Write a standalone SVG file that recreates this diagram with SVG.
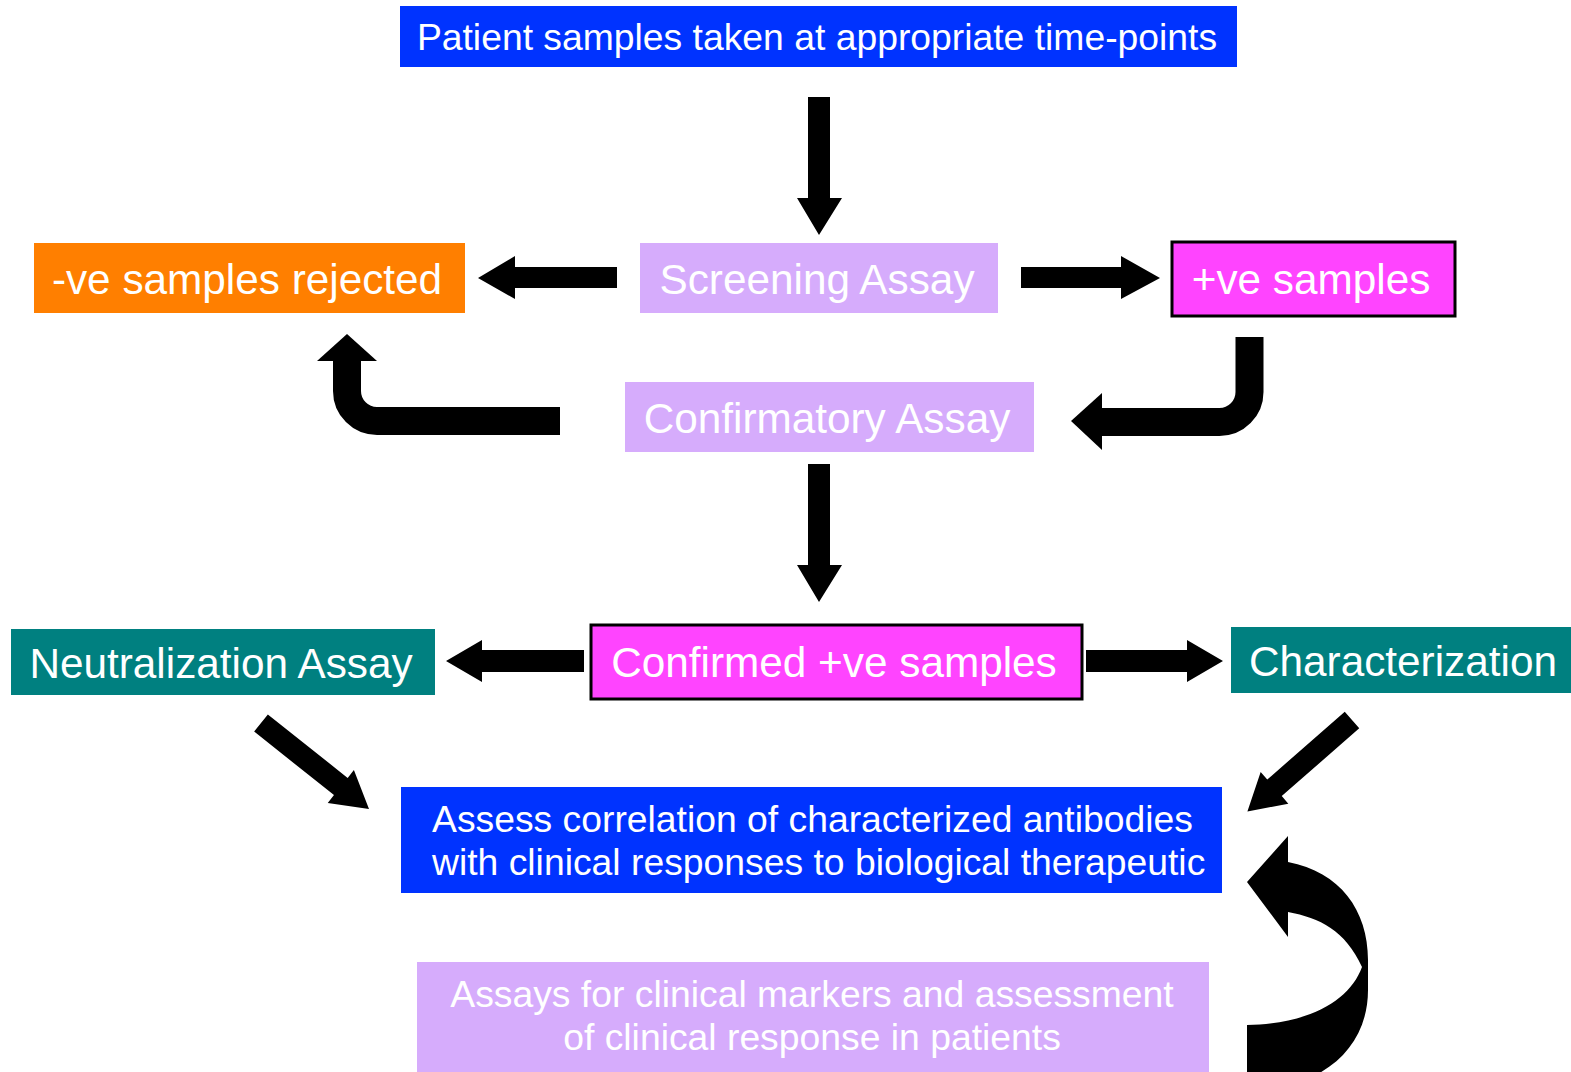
<svg xmlns="http://www.w3.org/2000/svg" width="1571" height="1072" viewBox="0 0 1571 1072">
<style>
text{font-family:"Liberation Sans",Arial,sans-serif;fill:#fff}
.big{font-size:42.3px}
.mid{font-size:37.3px}
.c{text-anchor:middle}
.blue{fill:#0033ff}
.lav{fill:#d6acfc}
.org{fill:#ff7f00}
.mag{fill:#ff44ff;stroke:#000;stroke-width:3}
.teal{fill:#008080}
.arr{fill:#000}
.bend{fill:none;stroke:#000;stroke-width:28}
</style>
<rect width="1571" height="1072" fill="#fff"/>
<g id="connectors">
<polygon class="arr" points="808,97 830,97 830,198 842,198 819,235 797,198 808,198"/>
<polygon class="arr" points="617,267 617,288 515,288 515,299 478,278 515,256 515,267"/>
<polygon class="arr" points="1021,267 1121,267 1121,256 1160,278 1121,299 1121,288 1021,288"/>
<path class="bend" d="M347,358 V391 A30,30 0 0 0 377,421 H560"/>
<polygon class="arr" points="317,361 377,361 347,334"/>
<path class="bend" d="M1249.5,337 V392 A30,30 0 0 1 1219.5,422 H1100"/>
<polygon class="arr" points="1102,393 1102,450 1071,421"/>
<polygon class="arr" points="808,464 830,464 830,565 842,565 819,602 797,565 808,565"/>
<polygon class="arr" points="584,650 584,672 482,672 482,682 446,661 482,640 482,650"/>
<polygon class="arr" points="1086,650 1187,650 1187,640 1223,661 1187,682 1187,672 1086,672"/>
<polygon class="arr" transform="translate(261,723) rotate(38.5)" points="0,-11 102,-11 102,-21 138,0 102,21 102,11 0,11"/>
<polygon class="arr" transform="translate(1352,720) rotate(138.8)" points="0,-11 103,-11 103,-21 139,0 103,21 103,11 0,11"/>
<path class="arr" d="M1247,1025 C1310,1024 1350,1000 1362,967 C1345,930 1320,918 1288,912 L1288,937 L1247,882 L1288,836 L1288,862 C1340,872 1368,910 1368,960 L1368,990 C1368,1050 1320,1090 1247,1090 Z"/>
</g>
<g id="patient-samples">
<rect class="blue" x="400" y="6" width="837" height="61"/>
<text class="mid c" x="817" y="50">Patient samples taken at appropriate time-points</text>
</g>
<g id="ve-rejected">
<rect class="org" x="34" y="243" width="431" height="70"/>
<text class="big c" x="247" y="294">-ve samples rejected</text>
</g>
<g id="screening-assay">
<rect class="lav" x="640" y="243" width="358" height="70"/>
<text class="big c" x="817" y="294">Screening Assay</text>
</g>
<g id="pos-samples">
<rect class="mag" x="1172" y="242" width="283" height="74"/>
<text class="big c" x="1311" y="294">+ve samples</text>
</g>
<g id="confirmatory-assay">
<rect class="lav" x="625" y="382" width="409" height="70"/>
<text class="big c" x="827" y="433">Confirmatory Assay</text>
</g>
<g id="confirmed-pos">
<rect class="mag" x="591" y="625" width="491" height="74"/>
<text class="big c" x="834" y="677">Confirmed +ve samples</text>
</g>
<g id="neutralization-assay">
<rect class="teal" x="11" y="629" width="424" height="66"/>
<text class="big c" x="221" y="678">Neutralization Assay</text>
</g>
<g id="characterization">
<rect class="teal" x="1231" y="627" width="340" height="66"/>
<text class="big c" x="1403" y="676">Characterization</text>
</g>
<g id="assess-correlation">
<rect class="blue" x="401" y="787" width="821" height="106"/>
<text class="mid" x="432" y="832">Assess correlation of characterized antibodies</text>
<text class="mid" x="432" y="875">with clinical responses to biological therapeutic</text>
</g>
<g id="clinical-markers">
<rect class="lav" x="417" y="962" width="792" height="115"/>
<text class="mid c" x="812" y="1007">Assays for clinical markers and assessment</text>
<text class="mid c" x="812" y="1050">of clinical response in patients</text>
</g>
</svg>
